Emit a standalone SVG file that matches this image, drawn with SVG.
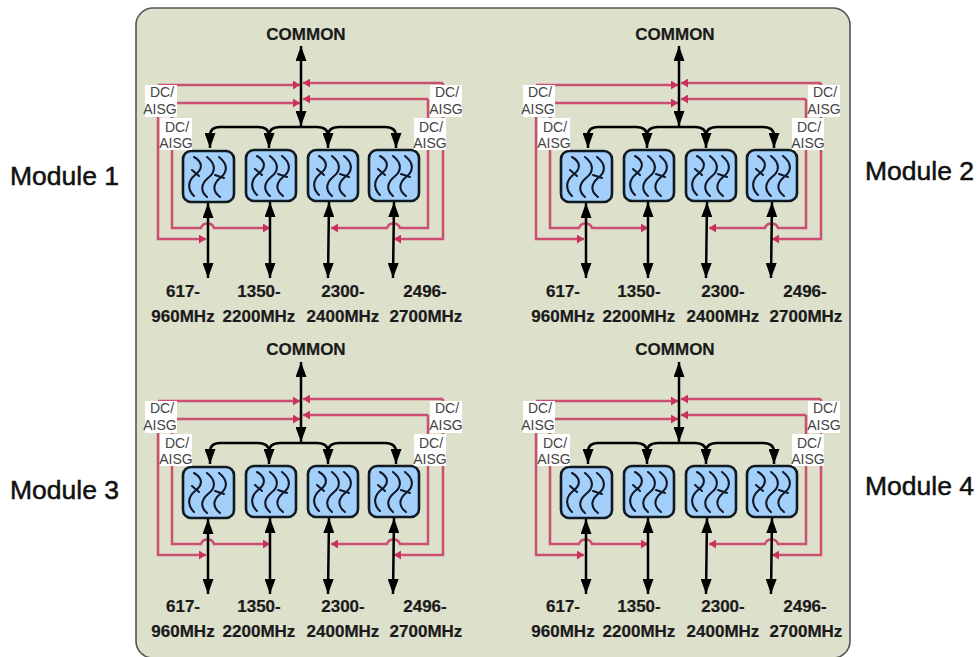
<svg xmlns="http://www.w3.org/2000/svg" width="979" height="657" viewBox="0 0 979 657">
<style>
.mod{font:26.5px "Liberation Sans",Arial,sans-serif;fill:#111;stroke:#111;stroke-width:.5}
.lab{font:bold 17px "Liberation Sans",Arial,sans-serif;fill:#1a1a1a;stroke:#1a1a1a;stroke-width:.2;text-anchor:middle}
.dc{font:14px "Liberation Sans",Arial,sans-serif;fill:#444;text-anchor:middle}
.box{fill:#fff}
.red{fill:none;stroke:#cb4f72;stroke-width:2.5}
.blk{fill:none;stroke:#000;stroke-width:2.5}
.flt{fill:#a3cffb;stroke:#101820;stroke-width:2.6}
.cur{fill:none;stroke:#101828;stroke-width:2.1;stroke-linecap:round}
</style>
<defs>
<marker id="ah" markerUnits="userSpaceOnUse" viewBox="0 0 15 11" refX="15" refY="5.5" markerWidth="15" markerHeight="11" orient="auto-start-reverse"><path d="M0 0L15 5.5L0 11z" fill="#000"/></marker>
<marker id="rh" markerUnits="userSpaceOnUse" viewBox="0 0 7 9" refX="7" refY="4.5" markerWidth="7" markerHeight="9" orient="auto"><path d="M0 0L7 4.5L0 9z" fill="#c9305c"/></marker>
<g id="waves" class="cur">
<path d="M11 6C20 11 20 18 12 24C6 29 3 37 11 45M24 6C33 13 33 21 25 27C18 33 17 40 24 46M36 6C45 13 45 21 37 27C30 33 29 40 37 46"/>
<path d="M9 19L16 25M32 24L41 27"/>
</g>
<g id="mod">
<g class="connectors">
<path class="red" marker-end="url(#rh)" d="M158 85H300"/>
<path class="red" marker-end="url(#rh)" d="M158 85V239H206"/>
<path class="red" marker-end="url(#rh)" d="M172 103H300"/>
<path class="red" marker-end="url(#rh)" d="M172 103V228H201C203 222 212 222 214 228H270"/>
<path class="red" marker-end="url(#rh)" d="M443 83H303"/>
<path class="red" marker-end="url(#rh)" d="M428 99H303"/>
<path class="red" marker-end="url(#rh)" d="M428 99V228H400C398 222 389 222 387 228H331"/>
<path class="red" marker-end="url(#rh)" d="M443 83V239H394"/>
<path class="blk" marker-start="url(#ah)" marker-end="url(#ah)" d="M301 46V126"/>
<path class="blk" marker-end="url(#ah)" d="M210 136V148"/>
<path class="blk" d="M210 136Q210 127 220 127H258Q269 127 269 136"/>
<path class="blk" d="M269 136Q269 127 280 127H317Q328 127 328 136"/>
<path class="blk" d="M328 136Q328 127 339 127H385Q396 127 396 136"/>
<path class="blk" marker-end="url(#ah)" d="M269 134V148"/>
<path class="blk" marker-end="url(#ah)" d="M328 134V148"/>
<path class="blk" marker-end="url(#ah)" d="M396 134V148"/>
<path class="blk" marker-start="url(#ah)" marker-end="url(#ah)" d="M208 203V278"/>
<path class="blk" marker-start="url(#ah)" marker-end="url(#ah)" d="M270 202V278"/>
<path class="blk" marker-start="url(#ah)" marker-end="url(#ah)" d="M329 202L328 278"/>
<path class="blk" marker-start="url(#ah)" marker-end="url(#ah)" d="M394 202L393 278"/>
</g>
<rect class="flt" x="183" y="151" width="51" height="51" rx="8"/><use href="#waves" x="183" y="151"/>
<rect class="flt" x="246" y="150" width="50" height="51" rx="8"/><use href="#waves" x="246" y="150"/>
<rect class="flt" x="308" y="150" width="50" height="51" rx="8"/><use href="#waves" x="308" y="150"/>
<rect class="flt" x="369" y="150" width="50" height="51" rx="8"/><use href="#waves" x="369" y="150"/>
<rect class="box" x="145" y="85" width="32" height="32"/><rect class="box" x="160" y="118" width="32" height="32"/>
<rect class="box" x="430" y="85" width="32" height="32"/><rect class="box" x="414" y="118" width="32" height="32"/>
<text class="dc" x="162" y="97">DC/</text><text class="dc" x="160" y="114">AISG</text>
<text class="dc" x="177" y="132">DC/</text><text class="dc" x="176" y="148">AISG</text>
<text class="dc" x="447" y="97">DC/</text><text class="dc" x="446" y="114">AISG</text>
<text class="dc" x="431" y="132">DC/</text><text class="dc" x="430" y="148">AISG</text>
</g>
<g id="labs">
<text class="lab" x="183" y="296.5">617-</text><text class="lab" x="183" y="321.5">960MHz</text>
<text class="lab" x="259" y="296.5">1350-</text><text class="lab" x="259" y="321.5">2200MHz</text>
<text class="lab" x="343" y="296.5">2300-</text><text class="lab" x="343" y="321.5">2400MHz</text>
<text class="lab" x="425" y="296.5">2496-</text><text class="lab" x="426" y="321.5">2700MHz</text>
</g>
</defs>
<rect width="979" height="657" fill="#fff"/>
<rect id="panel" x="136" y="8" width="714" height="650" rx="17" fill="#dde0ca" stroke="#555" stroke-width="1.6"/>
<g id="module1"><use href="#mod"/><use href="#labs"/><text class="lab" x="306" y="40">COMMON</text></g>
<g id="module2"><use href="#mod" x="378"/><use href="#labs" x="380"/><text class="lab" x="675" y="40">COMMON</text></g>
<g id="module3"><use href="#mod" y="316"/><use href="#labs" y="315"/><text class="lab" x="306" y="355">COMMON</text></g>
<g id="module4"><use href="#mod" x="378" y="316"/><use href="#labs" x="380" y="315"/><text class="lab" x="675" y="355">COMMON</text></g>
<text class="mod" x="10" y="185">Module 1</text>
<text class="mod" x="865" y="179.5">Module 2</text>
<text class="mod" x="10" y="499">Module 3</text>
<text class="mod" x="865" y="495">Module 4</text>
</svg>
